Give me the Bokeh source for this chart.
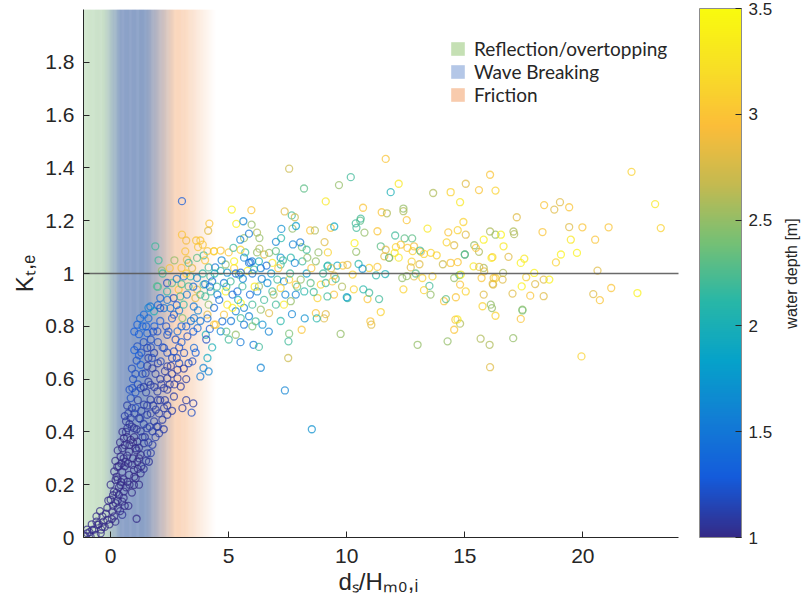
import numpy as np
from bokeh.plotting import figure
from bokeh.models import (ColumnDataSource, LinearColorMapper, ColorBar, FixedTicker,
                          Label, Legend, LegendItem, Title)
from bokeh.embed import file_html
from bokeh.resources import INLINE

# ---------------- data (x = d_s/H_m0,i, y = K_t,e, depth [m]) ----------------
branch_pts = [
    (-1.06, 0.004, 1.0), (-0.85, 0.004, 1.0), (-0.99, 0.016, 1.0), (-0.64, 0.010, 1.0),
    (-0.42, 0.016, 1.0), (-0.78, 0.029, 1.0), (-0.35, 0.041, 1.0), (-0.56, 0.048, 1.0),
    (-0.14, 0.067, 1.0), (-0.35, 0.080, 1.0), (0.49, 0.086, 1.05), (1.10, 0.071, 1.0),
    (0.07, 0.099, 1.0), (-0.14, 0.112, 1.0), (0.00, 0.143, 1.0), (0.21, 0.130, 1.0),
    (0.49, 0.136, 1.0), (0.14, 0.174, 1.0), (0.35, 0.161, 1.0), (0.56, 0.174, 1.0),
    (0.21, 0.218, 1.0), (0.42, 0.199, 1.0), (0.71, 0.211, 1.0), (0.99, 0.199, 1.0),
    (1.06, 0.224, 1.0), (0.28, 0.268, 1.0), (0.49, 0.249, 1.0), (0.78, 0.237, 1.0),
    (0.99, 0.256, 1.0), (1.27, 0.243, 1.0), (0.42, 0.306, 1.0), (0.63, 0.287, 1.0),
    (0.92, 0.275, 1.0), (1.13, 0.287, 1.0), (1.62, 0.287, 1.05), (0.49, 0.338, 1.0),
    (0.78, 0.325, 1.0), (1.06, 0.338, 1.0), (1.27, 0.313, 1.0), (1.55, 0.319, 1.05),
    (0.56, 0.376, 1.0), (0.85, 0.370, 1.0), (1.13, 0.363, 1.0), (1.41, 0.357, 1.05),
    (1.77, 0.351, 1.1), (0.71, 0.414, 1.05), (0.99, 0.414, 1.05), (1.27, 0.402, 1.05),
    (1.55, 0.414, 1.1), (1.77, 0.402, 1.1), (2.05, 0.395, 1.1), (0.85, 0.452, 1.1),
    (1.20, 0.452, 1.1), (1.55, 0.465, 1.1), (1.84, 0.440, 1.1), (2.19, 0.446, 1.1),
    (2.40, 0.465, 1.1), (0.85, 0.528, 1.2), (1.06, 0.490, 1.2), (1.41, 0.503, 1.1),
    (1.69, 0.522, 1.1), (1.91, 0.484, 1.1), (2.26, 0.490, 1.1), (3.04, 0.490, 1.1),
    (3.43, 0.473, 1.2), (3.50, 0.508, 1.1), (0.92, 0.566, 1.2), (1.27, 0.566, 1.1),
    (1.69, 0.578, 1.1), (1.98, 0.553, 1.1), (2.26, 0.566, 1.1), (2.68, 0.534, 1.1),
    (2.97, 0.572, 1.1), (2.40, 0.603, 1.1), (2.83, 0.603, 1.1), (1.27, 0.654, 1.3),
    (1.48, 0.622, 1.1), (1.77, 0.641, 1.1), (2.12, 0.667, 1.2), (2.40, 0.648, 1.1),
    (2.83, 0.635, 1.1), (3.46, 0.667, 1.2), (3.93, 0.642, 1.6), (4.10, 0.680, 1.9),
    (4.15, 0.629, 1.6), (3.80, 0.610, 1.5), (1.13, 0.724, 1.2), (1.55, 0.718, 1.1),
    (1.84, 0.699, 1.1), (2.26, 0.718, 1.2), (2.68, 0.705, 1.2), (3.11, 0.699, 1.2),
    (3.53, 0.718, 1.4), (1.13, 0.806, 1.3), (1.55, 0.774, 1.3), (1.98, 0.781, 1.2),
    (2.40, 0.768, 1.2), (2.83, 0.781, 1.4), (3.25, 0.762, 1.2), (3.68, 0.793, 1.4),
    (4.03, 0.768, 2.0), (1.41, 0.844, 1.4), (1.84, 0.857, 2.0), (2.26, 0.869, 1.5),
    (2.68, 0.844, 1.2), (3.04, 0.831, 2.4), (3.53, 0.831, 1.5), (4.10, 0.844, 2.8),
    (4.38, 0.806, 3.0),
    (-0.90, 0.020, 1.0), (-0.70, 0.030, 1.0), (-0.50, 0.050, 1.0), (-0.60, 0.060, 1.0),
    (-0.30, 0.060, 1.0), (-0.20, 0.090, 1.0), (-0.40, 0.030, 1.0), (0.10, 0.120, 1.0),
    (0.15, 0.080, 1.0), (0.30, 0.110, 1.0), (0.35, 0.190, 1.0), (0.25, 0.230, 1.0),
    (0.55, 0.220, 1.0), (0.60, 0.270, 1.0), (0.45, 0.280, 1.0), (0.70, 0.310, 1.0),
    (0.80, 0.350, 1.0), (0.65, 0.400, 1.05), (0.90, 0.420, 1.05), (0.75, 0.470, 1.1),
    (1.00, 0.470, 1.1), (0.95, 0.600, 1.2), (1.05, 0.620, 1.2), (1.15, 0.580, 1.2),
    (1.30, 0.700, 1.2), (1.20, 0.770, 1.3), (1.35, 0.800, 1.4), (1.60, 0.830, 1.4),
    (1.70, 0.750, 1.2), (1.90, 0.620, 1.1), (2.00, 0.520, 1.1), (2.10, 0.600, 1.1),
    (2.30, 0.520, 1.1), (2.50, 0.580, 1.1), (2.60, 0.680, 1.2), (2.90, 0.720, 1.2),
    (3.20, 0.600, 1.1), (3.30, 0.660, 1.2), (1.50, 0.550, 1.1), (1.60, 0.680, 1.1),
    (1.25, 0.450, 1.1), (1.45, 0.380, 1.05), (1.10, 0.330, 1.0), (1.30, 0.270, 1.0),
    (0.90, 0.170, 1.0), (1.20, 0.200, 1.0), (1.00, 0.380, 1.0), (0.60, 0.120, 1.0),
    (1.70, 0.470, 1.1), (2.00, 0.420, 1.1), (2.20, 0.720, 1.2), (2.45, 0.780, 1.3),
    (2.75, 0.750, 1.2), (1.85, 0.800, 1.3), (3.00, 0.800, 1.4), (3.40, 0.820, 1.5),
    (3.70, 0.860, 1.6),
]

branch_extra = [
    (-1.00, 0.030, 1.0), (-0.80, 0.050, 1.0), (-0.60, 0.080, 1.0), (-0.45, 0.100, 1.0),
    (-0.25, 0.040, 1.0), (-0.05, 0.050, 1.0), (0.05, 0.070, 1.0), (0.20, 0.060, 1.0),
    (0.40, 0.100, 1.0), (0.10, 0.160, 1.0), (-0.10, 0.140, 1.0), (0.30, 0.140, 1.0),
    (0.55, 0.150, 1.0), (0.75, 0.120, 1.0), (0.00, 0.200, 1.0), (0.15, 0.250, 1.0),
    (0.30, 0.220, 1.0), (0.45, 0.210, 1.0), (0.65, 0.190, 1.0), (0.80, 0.200, 1.0),
    (1.00, 0.230, 1.0), (1.15, 0.260, 1.0), (0.35, 0.270, 1.0), (0.55, 0.300, 1.0),
    (0.75, 0.280, 1.0), (0.95, 0.300, 1.0), (1.20, 0.300, 1.0), (1.40, 0.260, 1.05),
    (0.20, 0.290, 1.0), (0.30, 0.330, 1.0), (0.60, 0.350, 1.0), (0.70, 0.380, 1.0),
    (0.95, 0.360, 1.0), (1.20, 0.340, 1.05), (1.35, 0.380, 1.1), (1.60, 0.360, 1.1),
    (1.90, 0.380, 1.1), (0.50, 0.400, 1.0), (0.80, 0.430, 1.05), (1.10, 0.410, 1.05),
    (1.40, 0.430, 1.1), (1.65, 0.420, 1.1), (1.95, 0.420, 1.1), (2.25, 0.410, 1.1),
    (0.65, 0.440, 1.05), (0.70, 0.500, 1.1), (0.90, 0.490, 1.1), (1.15, 0.520, 1.1),
    (1.30, 0.480, 1.1), (1.55, 0.500, 1.1), (1.80, 0.500, 1.1), (2.05, 0.470, 1.1),
    (2.40, 0.500, 1.1), (2.60, 0.480, 1.1), (0.80, 0.560, 1.2), (1.05, 0.550, 1.2),
    (1.40, 0.570, 1.1), (1.60, 0.590, 1.1), (1.85, 0.570, 1.1), (2.15, 0.580, 1.1),
    (2.40, 0.560, 1.1), (2.70, 0.580, 1.1), (3.20, 0.520, 1.1), (0.90, 0.640, 1.2),
    (1.10, 0.670, 1.2), (1.35, 0.620, 1.2), (1.55, 0.650, 1.1), (1.75, 0.680, 1.2),
    (2.00, 0.660, 1.1), (2.30, 0.630, 1.1), (2.60, 0.620, 1.1), (2.90, 0.660, 1.2),
    (3.10, 0.640, 1.1), (1.00, 0.710, 1.3), (1.40, 0.740, 1.2), (1.70, 0.720, 1.2),
    (2.00, 0.740, 1.2), (2.40, 0.700, 1.2), (2.80, 0.680, 1.2), (3.00, 0.740, 1.3),
    (3.60, 0.700, 1.3), (1.20, 0.690, 1.3), (1.00, 0.780, 1.3), (1.25, 0.830, 1.4),
    (1.50, 0.800, 1.3), (1.80, 0.780, 1.2), (2.10, 0.820, 1.3), (2.35, 0.800, 1.2),
    (2.60, 0.830, 1.3), (2.90, 0.860, 1.5), (3.20, 0.800, 1.3), (3.50, 0.780, 1.3),
    (3.80, 0.820, 1.5), (1.60, 0.870, 1.6), (2.00, 0.880, 1.4), (2.40, 0.900, 1.5),
    (2.80, 0.880, 1.3), (0.60, 0.460, 1.1), (0.40, 0.360, 1.0), (0.25, 0.170, 1.0),
    (1.50, 0.290, 1.05), (1.70, 0.320, 1.1), (2.10, 0.520, 1.1), (2.55, 0.650, 1.1),
]

transition_pts = [
    (3.02, 1.274, 1.3), (4.18, 1.189, 3.0), (4.13, 1.162, 2.8), (3.02, 1.147, 3.0),
    (3.20, 1.125, 2.9), (3.62, 1.125, 3.0), (3.80, 1.125, 3.0), (3.90, 1.109, 3.0),
    (1.89, 1.103, 2.2), (2.03, 1.050, 2.2), (2.17, 1.011, 2.5), (3.16, 1.084, 3.0),
    (3.23, 1.052, 2.8), (3.30, 1.040, 2.2), (3.66, 1.059, 2.3), (3.94, 1.069, 2.2),
    (4.37, 1.084, 3.0), (3.00, 1.021, 3.0), (3.10, 0.989, 1.5), (3.38, 0.989, 2.1),
    (3.66, 0.983, 1.6), (4.15, 1.023, 2.2), (4.43, 1.023, 1.5), (4.22, 0.989, 2.2),
    (1.96, 0.951, 2.3), (2.39, 0.964, 1.2), (2.39, 0.932, 2.1), (2.60, 0.964, 2.3),
    (2.88, 0.939, 3.0), (3.30, 0.951, 2.2), (3.66, 0.939, 2.8), (3.94, 0.958, 2.2),
    (2.10, 0.907, 1.4), (2.67, 0.907, 1.2), (2.95, 0.913, 2.2), (3.23, 0.920, 1.5),
    (3.59, 0.907, 2.8), (4.01, 0.913, 2.2), (1.68, 0.875, 1.5), (2.10, 0.869, 1.2),
    (2.53, 0.869, 1.5), (3.09, 0.882, 2.1), (3.52, 0.875, 1.5), (4.15, 0.882, 2.5),
    (3.90, 1.000, 2.1), (4.00, 0.960, 1.5), (4.30, 0.970, 1.4), (4.50, 0.950, 2.2),
    (4.10, 0.830, 1.4), (4.20, 0.790, 1.3), (4.05, 0.750, 1.2), (4.30, 0.720, 2.0),
    (2.00, 0.950, 2.2),
]

cluster_pts = [
    (4.38, 1.085, 3.1), (4.66, 1.087, 3.0), (5.65, 1.060, 1.6), (5.86, 1.040, 1.5),
    (5.92, 1.042, 1.4), (5.99, 1.046, 1.5), (6.28, 1.046, 2.0), (6.50, 1.072, 2.8),
    (6.71, 1.078, 2.5), (6.85, 1.040, 3.3), (7.00, 1.085, 2.3), (7.20, 1.060, 1.7),
    (7.20, 1.034, 2.2), (7.63, 1.060, 2.1), (8.12, 1.046, 2.2), (8.33, 1.060, 2.5),
    (8.69, 1.046, 2.5), (9.18, 1.027, 2.1), (4.66, 1.010, 2.2), (4.94, 1.003, 1.7),
    (5.23, 1.020, 3.1), (5.44, 0.996, 2.2), (5.80, 1.010, 3.4), (6.07, 1.015, 2.2),
    (6.36, 1.020, 1.6), (6.64, 0.964, 1.7), (7.06, 0.977, 2.2), (7.34, 0.970, 1.6),
    (7.56, 0.977, 3.1), (7.84, 0.958, 3.0), (8.05, 0.977, 2.5), (8.47, 0.964, 2.3),
    (8.90, 0.958, 3.1), (9.11, 0.964, 2.2), (9.39, 0.970, 3.0), (9.53, 0.980, 2.2),
    (10.03, 0.907, 2.2), (9.46, 0.920, 3.0), (9.18, 0.913, 2.2), (8.76, 0.907, 3.1),
    (8.20, 0.932, 2.1), (7.84, 0.920, 1.6), (7.63, 0.895, 2.5), (7.34, 0.882, 3.3),
    (7.00, 0.882, 2.2), (6.71, 0.850, 2.8), (6.36, 0.863, 2.5), (6.00, 0.882, 2.2),
    (5.65, 0.870, 1.6), (5.30, 0.857, 1.6), (5.16, 0.870, 3.4), (4.80, 0.844, 3.0),
    (4.73, 0.819, 1.4), (4.45, 0.806, 3.0), (5.51, 0.831, 2.2), (5.86, 0.838, 1.6),
    (6.14, 0.819, 2.2), (6.43, 0.806, 1.7), (5.65, 0.806, 1.5), (4.66, 0.781, 1.6),
    (4.38, 0.870, 1.4), (4.24, 0.932, 2.2), (4.52, 0.920, 1.6), (4.87, 0.932, 3.4),
    (5.16, 0.920, 1.4), (5.37, 0.932, 1.4), (5.58, 0.951, 2.2), (6.21, 0.932, 1.6),
    (6.28, 0.951, 2.5), (6.85, 0.932, 2.2), (7.20, 0.945, 3.1), (5.51, 0.888, 3.4),
    (4.94, 0.882, 3.3), (5.08, 0.970, 2.2), (4.80, 0.964, 1.5), (5.51, 1.003, 1.3),
    (5.23, 1.046, 3.4), (4.87, 1.034, 2.5), (4.10, 1.085, 3.0), (5.65, 1.134, 2.5),
    (2.20, 1.000, 2.2), (2.50, 1.020, 3.0), (2.70, 1.050, 2.5), (2.80, 0.980, 1.5),
    (3.00, 0.960, 2.2), (3.20, 1.000, 3.1), (3.45, 1.020, 2.8), (3.50, 0.950, 1.4),
    (3.70, 1.100, 3.0), (3.80, 0.920, 2.2), (4.00, 1.050, 3.0), (4.20, 0.950, 1.5),
    (4.40, 1.000, 2.0), (4.60, 0.900, 1.4), (4.70, 1.050, 1.6), (4.90, 0.950, 2.2),
    (5.00, 1.080, 3.0), (5.10, 0.820, 1.5), (5.30, 1.000, 1.4), (5.40, 0.900, 2.0),
    (5.60, 0.980, 1.6), (5.70, 1.080, 2.2), (5.90, 0.920, 1.4), (6.00, 1.000, 1.5),
    (6.10, 0.950, 3.3), (6.20, 1.080, 2.5), (6.40, 0.980, 1.6), (6.50, 0.900, 2.2),
    (6.60, 1.030, 1.4), (6.80, 1.000, 1.8), (6.90, 0.920, 2.6), (7.00, 1.120, 1.6),
    (7.10, 1.020, 3.0), (7.30, 1.050, 2.2), (7.40, 0.920, 1.6), (7.60, 1.000, 2.2),
    (7.80, 1.040, 1.6), (7.90, 0.950, 2.3), (8.10, 1.100, 2.4), (8.30, 1.000, 1.8),
    (8.50, 1.020, 3.0), (8.60, 0.930, 2.2), (8.80, 1.080, 2.5), (9.00, 1.000, 2.2),
    (9.20, 1.080, 3.1), (9.60, 1.030, 1.9), (9.80, 0.950, 2.6), (6.00, 0.800, 2.4),
    (6.70, 0.780, 1.6), (7.20, 0.820, 2.1), (5.50, 0.740, 1.5), (4.90, 0.780, 2.3),
]

scatter_pts = [
    (11.65, 1.434, 3.0), (7.56, 1.397, 2.7), (10.17, 1.365, 2.2), (9.67, 1.335, 2.5),
    (8.19, 1.322, 2.3), (12.20, 1.340, 3.3), (11.86, 1.308, 2.0), (9.11, 1.273, 3.3),
    (13.66, 1.305, 2.6), (14.40, 1.308, 3.1), (15.04, 1.340, 2.8), (15.60, 1.316, 3.0),
    (16.07, 1.374, 3.0), (16.30, 1.314, 3.1), (14.80, 1.270, 3.3), (5.13, 1.242, 3.4),
    (5.96, 1.240, 3.0), (7.37, 1.235, 2.8), (7.67, 1.220, 2.2), (7.80, 1.213, 2.7),
    (10.69, 1.249, 3.0), (11.48, 1.232, 3.0), (11.70, 1.228, 2.6), (12.40, 1.246, 2.5),
    (12.40, 1.236, 2.6), (10.59, 1.208, 2.2), (10.57, 1.200, 2.3), (12.54, 1.202, 3.0),
    (14.94, 1.195, 3.1), (5.32, 1.188, 3.4), (5.62, 1.198, 1.6), (5.97, 1.185, 2.5),
    (5.86, 1.151, 1.5), (6.20, 1.155, 2.6), (6.30, 1.134, 2.5), (7.23, 1.169, 1.7),
    (7.70, 1.170, 2.5), (7.85, 1.180, 1.8), (8.45, 1.163, 3.0), (8.65, 1.163, 2.6),
    (9.32, 1.173, 3.0), (9.47, 1.178, 1.9), (10.41, 1.173, 2.2), (10.75, 1.155, 2.5),
    (11.30, 1.160, 3.0), (12.05, 1.144, 2.2), (12.45, 1.133, 2.3), (12.77, 1.133, 2.3),
    (13.42, 1.170, 3.3), (14.30, 1.156, 3.0), (14.70, 1.164, 3.1), (15.04, 1.147, 2.8),
    (15.80, 1.128, 3.4), (16.07, 1.159, 2.6), (16.30, 1.147, 2.5), (5.20, 1.097, 2.2),
    (5.50, 1.090, 3.1), (5.49, 1.128, 1.6), (6.30, 1.094, 2.6), (7.22, 1.134, 2.1),
    (7.72, 1.110, 1.6), (8.03, 1.118, 1.5), (8.30, 1.090, 2.2), (9.06, 1.119, 2.8),
    (10.33, 1.115, 3.4), (10.40, 1.082, 2.5), (11.44, 1.103, 2.3), (11.65, 1.090, 2.8),
    (12.08, 1.100, 3.1), (12.85, 1.103, 2.9), (13.14, 1.082, 3.0), (13.56, 1.078, 3.1),
    (13.81, 1.069, 3.1), (14.23, 1.118, 3.1), (14.55, 1.107, 2.8), (15.00, 1.072, 2.6),
    (15.40, 1.107, 2.5), (15.60, 1.082, 2.6), (16.13, 1.059, 3.4), (11.59, 1.065, 2.8),
    (11.80, 1.059, 2.8), (12.20, 1.060, 3.3), (12.75, 1.045, 3.1), (13.08, 1.035, 2.8),
    (14.07, 1.035, 2.7), (14.40, 1.040, 3.0), (14.70, 1.043, 3.0), (15.37, 1.027, 3.3),
    (15.80, 1.021, 2.6), (9.83, 1.030, 3.0), (10.03, 1.033, 2.8), (10.50, 1.036, 2.1),
    (10.95, 1.021, 3.1), (11.30, 1.025, 3.0), (9.20, 1.030, 2.1), (9.34, 1.020, 2.8),
    (9.47, 0.992, 2.8), (10.25, 0.996, 3.1), (11.24, 0.993, 2.1), (11.63, 0.998, 2.0),
    (12.35, 0.983, 2.5), (12.85, 0.989, 2.8), (13.20, 0.983, 3.1), (13.63, 0.989, 3.1),
    (13.50, 0.953, 2.2), (13.55, 0.920, 2.5), (14.12, 0.895, 3.0), (14.20, 0.903, 2.3),
    (14.77, 0.994, 2.2), (14.55, 0.983, 2.5), (14.80, 0.958, 3.0), (15.04, 0.932, 3.1),
    (15.80, 0.920, 2.8), (16.20, 0.958, 2.8), (16.30, 0.983, 3.1), (16.10, 0.882, 2.5),
    (15.75, 0.876, 3.1), (16.30, 0.840, 3.1), (14.60, 0.825, 3.0), (14.80, 0.810, 2.6),
    (14.55, 0.787, 3.0), (13.00, 0.730, 2.5), (14.27, 0.743, 2.5), (15.67, 0.753, 2.6),
    (16.05, 0.730, 2.6), (16.07, 0.645, 2.8), (12.40, 0.940, 3.1), (13.27, 0.937, 3.1),
    (11.44, 0.854, 3.1), (11.00, 0.819, 3.0), (11.04, 0.806, 2.8), (9.74, 0.771, 2.5),
    (10.88, 0.903, 3.0), (11.37, 0.903, 2.2), (10.30, 0.940, 3.1), (10.00, 0.910, 1.8),
    (10.70, 0.940, 2.1), (10.95, 0.927, 2.2), (8.69, 0.850, 3.0), (9.11, 0.846, 2.8),
    (9.04, 0.830, 2.8), (8.73, 0.830, 2.1), (8.22, 0.830, 1.7), (8.09, 0.787, 3.0),
    (7.68, 0.846, 1.6), (7.56, 0.772, 2.4), (7.53, 0.743, 2.2), (7.52, 0.680, 2.7),
    (7.38, 0.557, 1.6), (8.52, 0.410, 1.7), (6.36, 0.643, 1.6), (6.05, 0.730, 1.5),
    (6.28, 0.722, 2.2), (5.00, 0.750, 2.2), (5.30, 0.768, 2.5),
    (10.38, 1.190, 2.2), (12.03, 1.078, 3.3), (12.29, 1.109, 3.0), (12.57, 1.097, 3.0),
    (12.79, 1.085, 3.1), (13.10, 1.087, 2.2), (13.27, 1.074, 3.1), (11.79, 1.060, 2.3),
    (10.67, 1.018, 1.7), (12.71, 1.023, 2.8), (12.92, 1.000, 2.3), (12.54, 0.990, 2.5),
]

far_pts = [
    (22.06, 1.385, 3.1), (23.06, 1.263, 3.3), (23.30, 1.172, 3.1), (18.36, 1.259, 3.0),
    (18.79, 1.242, 2.8), (19.03, 1.270, 2.8), (19.42, 1.251, 3.0), (17.20, 1.213, 2.8),
    (16.53, 1.147, 3.4), (17.06, 1.159, 2.6), (17.09, 1.149, 2.6), (18.29, 1.157, 3.0),
    (19.42, 1.176, 2.8), (19.98, 1.175, 3.0), (21.09, 1.175, 3.0), (16.64, 1.103, 3.3),
    (19.49, 1.128, 3.3), (20.52, 1.128, 3.0), (15.47, 1.097, 3.0), (15.00, 1.072, 2.2),
    (16.17, 1.062, 3.1), (16.85, 1.063, 2.8), (17.52, 1.056, 3.3), (17.37, 1.040, 3.4),
    (18.86, 1.042, 3.1), (19.07, 1.072, 3.4), (19.75, 1.078, 3.4), (15.61, 1.025, 2.8),
    (15.82, 1.008, 2.8), (14.83, 0.996, 3.3), (15.71, 0.983, 3.0), (16.22, 0.983, 3.0),
    (16.62, 1.002, 2.6), (16.60, 0.977, 2.8), (17.60, 0.986, 3.1), (17.94, 1.002, 3.4),
    (18.34, 0.977, 2.8), (18.58, 0.977, 3.4), (20.62, 1.011, 2.8), (16.18, 0.961, 2.8),
    (17.41, 0.951, 3.4), (17.98, 0.960, 2.8), (21.20, 0.945, 3.0), (22.31, 0.926, 3.4),
    (14.62, 0.910, 3.0), (17.02, 0.924, 2.8), (17.77, 0.916, 3.0), (18.34, 0.914, 2.8),
    (20.44, 0.922, 2.8), (20.72, 0.899, 3.0), (16.15, 0.869, 2.5), (17.44, 0.863, 2.5),
    (17.44, 0.860, 2.4), (17.37, 0.828, 3.0), (14.69, 0.826, 3.3), (17.05, 0.755, 2.5),
    (19.94, 0.686, 3.1),
]

kt_reference = 1.0
x_limits = (-1.15, 24.05)          # visible axis extent
y_range = (0.0, 2.0)
x_ticks = [0, 5, 10, 15, 20]
y_ticks = [0, 0.2, 0.4, 0.6, 0.8, 1.0, 1.2, 1.4, 1.6, 1.8]
depth_ticks = [1, 1.5, 2, 2.5, 3, 3.5]
depth_range = (1.0, 3.5)
x_title = "d\u209b/H\u2098\u2080,\u1d62"      # d_s/H_m0,i
y_title = "K\u209c,\u2091"                     # K_t,e
cbar_title = "water depth [m]"

# regimes shading: x stops and colours
regime_x = [-1.15, -0.30, 0.45, 1.45, 2.75, 3.10, 4.45]
regime_rgb = [(210, 231, 206), (200, 223, 200), (140, 162, 200), (138, 160, 198),
              (250, 214, 188), (250, 217, 193), (255, 255, 255)]
legend_labels = ["Reflection/overtopping", "Wave Breaking", "Friction"]
legend_colors = ["#c5e0b4", "#b4c7e7", "#f8cbad"]

# parula-like anchors
parula_anchor = [(0.2081, 0.1663, 0.5292), (0.0795, 0.3570, 0.8603), (0.0704, 0.4928, 0.8341),
                 (0.0232, 0.6345, 0.7905), (0.1540, 0.7162, 0.6571), (0.4525, 0.7526, 0.4619),
                 (0.7650, 0.7279, 0.3164), (0.9846, 0.7399, 0.2246), (0.9724, 0.8742, 0.1470),
                 (0.9763, 0.9831, 0.0538)]

# ---------------- build ----------------
all_pts = branch_pts + branch_extra + transition_pts + cluster_pts + scatter_pts + far_pts
src = ColumnDataSource(dict(x=[p[0] for p in all_pts], y=[p[1] for p in all_pts],
                            d=[p[2] for p in all_pts]))

anc = np.array(parula_anchor)
tpos = np.linspace(0, 1, len(anc))
tt = np.linspace(0, 1, 256)
palette = ["#%02x%02x%02x" % tuple(int(round(255 * np.interp(t, tpos, anc[:, k]))) for k in range(3))
           for t in tt]
mapper = LinearColorMapper(palette=palette, low=depth_range[0], high=depth_range[1])

W, H = 805, 615
L, T, B = 83, 9, 78
AXIS_W = 595                       # pixel width of the data area
# frame is extended to the right canvas edge so the colour-bar title can live inside it
px_per_unit = AXIS_W / (x_limits[1] - x_limits[0])
x_end = x_limits[1] + (W - L - AXIS_W) / px_per_unit

p = figure(width=W, height=H, x_range=(x_limits[0], x_end), y_range=y_range,
           output_backend="svg", toolbar_location=None,
           min_border_left=L, min_border_right=0, min_border_top=T, min_border_bottom=B)
p.outline_line_color = None
p.grid.grid_line_color = None
p.background_fill_color = "white"

axc = "#262626"
FONT = "Arial, Liberation Sans, Helvetica, sans-serif"

# shading strips
n = 150
edges = np.linspace(regime_x[0], regime_x[-1], n + 1)
mids = 0.5 * (edges[:-1] + edges[1:])
rgb = np.array(regime_rgb, dtype=float)
cols = ["#%02x%02x%02x" % tuple(int(round(np.interp(m, regime_x, rgb[:, k]))) for k in range(3)) for m in mids]
step = edges[1] - edges[0]
p.quad(left=edges[:-1], right=edges[1:] + step * 0.6, bottom=y_range[0], top=y_range[1],
       fill_color=cols, line_color=None)

p.scatter("x", "y", source=src, marker="circle", size=7, fill_color=None,
          line_color={"field": "d", "transform": mapper}, line_width=1.3, line_alpha=0.72)

# reference line K = 1 across the axis extent
p.line(x=list(x_limits), y=[kt_reference, kt_reference], line_color="#5a5a5a",
       line_width=1.6, line_alpha=0.9)

# axes
for ax in (p.xaxis[0], p.yaxis[0]):
    ax.axis_line_color = axc
    ax.major_tick_line_color = axc
    ax.minor_tick_line_color = None
    ax.major_tick_in = 6
    ax.major_tick_out = 0
    ax.major_label_text_font = FONT
    ax.major_label_text_font_size = "21px"
    ax.major_label_text_color = axc
    ax.axis_label_text_font = FONT
    ax.axis_label_text_font_style = "normal"
    ax.axis_label_text_color = axc
p.xaxis.bounds = x_limits
p.xaxis.ticker = FixedTicker(ticks=x_ticks)
p.yaxis.ticker = FixedTicker(ticks=y_ticks)
p.yaxis.major_label_overrides = {0: "0", 1.0: "1"}
p.xaxis.major_label_standoff = 11
p.yaxis.major_label_standoff = 9
p.yaxis.axis_label = y_title
p.yaxis.axis_label_text_font_size = "24px"
p.yaxis.axis_label_standoff = 4

# x-axis title, left-aligned below the axis so it sits where the original has it
p.add_layout(Title(text=x_title, align="left", offset=255, standoff=0,
                   text_font=FONT, text_font_size="24px", text_font_style="normal",
                   text_color=axc), "below")

# legend with hidden (NaN) quads
items = []
for lab_txt, c in zip(legend_labels, legend_colors):
    r = p.quad(left=np.array([np.nan]), right=np.array([np.nan]), bottom=np.array([np.nan]),
               top=np.array([np.nan]), fill_color=c, line_color=None)
    items.append(LegendItem(label=lab_txt, renderers=[r]))
leg = Legend(items=items, location=(366, 431), glyph_width=17, glyph_height=17,
             label_text_font="Lato", label_text_font_size="19px", label_text_color="#262626",
             label_standoff=8, spacing=0, padding=0, margin=0,
             border_line_color=None, background_fill_alpha=0)
p.add_layout(leg)

# colour bar
cb = ColorBar(color_mapper=mapper, ticker=FixedTicker(ticks=depth_ticks), width=42, height=529,
              location=(616, 0), padding=0, margin=0, label_standoff=7,
              major_label_text_font=FONT, major_label_text_font_size="17px",
              major_label_text_color=axc, major_tick_line_color=axc, major_tick_in=6,
              bar_line_color="#8c8c8c", background_fill_alpha=0)
p.add_layout(cb)

# colour-bar title, rotated to read bottom-to-top (inside the extended frame)
p.add_layout(Label(x=708, y=264, x_units="screen", y_units="screen", text=cbar_title,
                   angle=np.pi / 2, text_align="center", text_baseline="middle",
                   text_font=FONT, text_font_size="16px", text_color=axc))

open("out.html", "w").write(file_html(p, INLINE))
